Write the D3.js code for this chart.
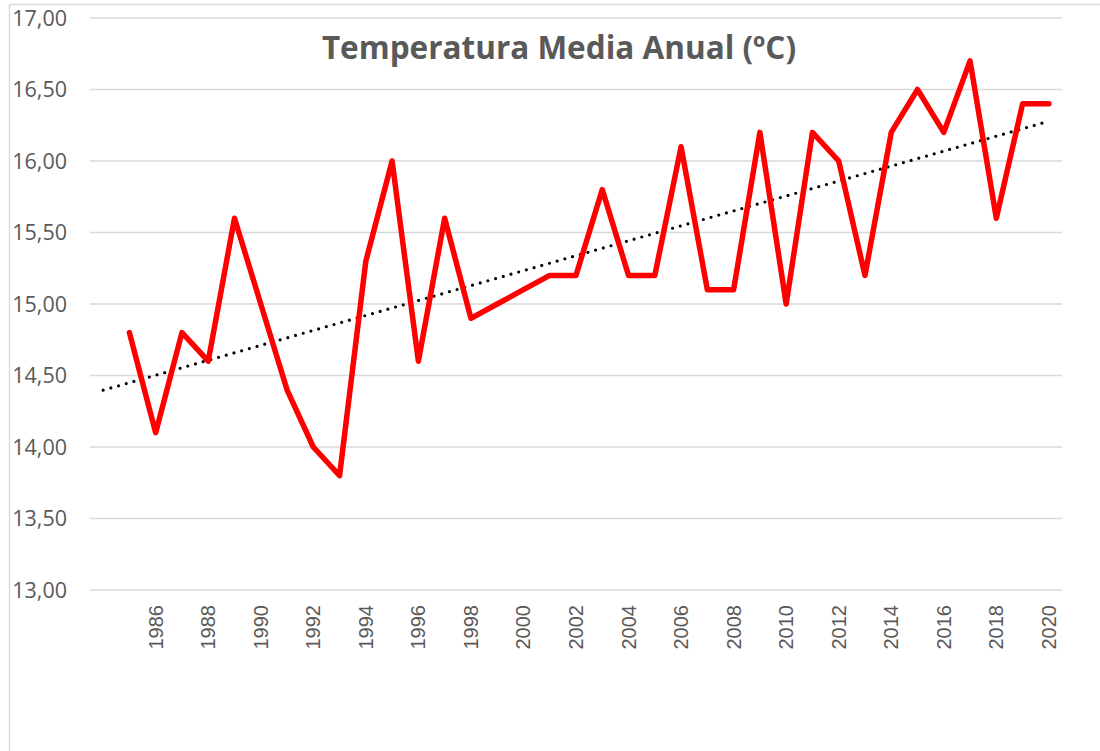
<!DOCTYPE html>
<html>
<head>
  <meta charset="utf-8">
  <title>Temperatura Media Anual</title>
  <script src="https://d3js.org/d3.v7.min.js"></script>
  <style>
    html, body {
      margin: 0;
      padding: 0;
      background: #fff;
    }
    .ylab {
      font: 21.5px "Open Sans", sans-serif;
      fill: #595959;
    }
    .xlab {
      font: 20px "Liberation Sans", Arial, sans-serif;
      fill: #595959;
    }
    .title {
      font: bold 31.5px "Open Sans", sans-serif;
      fill: #595959;
    }
  </style>
</head>
<body>
  <svg width="1100" height="751"></svg>
  <script>
    // data
    const years = d3.range(1985, 2021);
    const temps = [
      14.8, 14.1, 14.8, 14.6, 15.6, 15.0, 14.4, 14.0, 13.8, 15.3,
      16.0, 14.6, 15.6, 14.9, 15.0, 15.1, 15.2, 15.2, 15.8, 15.2,
      15.2, 16.1, 15.1, 15.1, 16.2, 15.0, 16.2, 16.0, 15.2, 16.2,
      16.5, 16.2, 16.7, 15.6, 16.4, 16.4
    ];
    const yTicks = [13, 13.5, 14, 14.5, 15, 15.5, 16, 16.5, 17];
    const xTicks = d3.range(1986, 2021, 2);
    const chartTitle = "Temperatura Media Anual (ºC)";

    const svg = d3.select("svg");

    // chart frame (left + top edge only visible)
    svg.append("line").attr("x1", 9.5).attr("x2", 9.5).attr("y1", 4.5).attr("y2", 751)
      .attr("stroke", "#d9d9d9").attr("stroke-width", 1.5);
    svg.append("line").attr("x1", 9.5).attr("x2", 1100).attr("y1", 4.5).attr("y2", 4.5)
      .attr("stroke", "#d9d9d9").attr("stroke-width", 1.5);

    const plotL = 90, plotR = 1062, plotT = 18, plotB = 590;

    // one empty category before 1985 (trendline forecast backwards)
    const x = d3.scaleLinear().domain([1983.5, 2020.5]).range([plotL, plotR]);
    const y = d3.scaleLinear().domain([13, 17]).range([plotB, plotT]);

    // gridlines
    svg.append("g").selectAll("line")
      .data(yTicks)
      .enter().append("line")
      .attr("x1", plotL).attr("x2", plotR)
      .attr("y1", d => y(d)).attr("y2", d => y(d))
      .attr("stroke", "#d9d9d9").attr("stroke-width", 1.5);

    const fmt = d => d.toFixed(2).replace(".", ",");
    svg.append("g").selectAll("text")
      .data(yTicks)
      .enter().append("text")
      .attr("class", "ylab")
      .attr("x", 67)
      .attr("y", d => y(d))
      .attr("dy", "0.35em")
      .attr("text-anchor", "end")
      .text(fmt);

    svg.append("g").selectAll("text")
      .data(xTicks)
      .enter().append("text")
      .attr("class", "xlab")
      .attr("transform", d => `translate(${x(d)},605) rotate(-90)`)
      .attr("dy", "0.35em")
      .attr("text-anchor", "end")
      .text(d => d);

    // least squares trend
    const mx = d3.mean(years), my = d3.mean(temps);
    const slope = d3.sum(years, (v, i) => (v - mx) * (temps[i] - my)) /
                  d3.sum(years, v => (v - mx) * (v - mx));
    const icpt = my - slope * mx;
    const trendYears = [1984, 2020];

    svg.append("path")
      .datum(trendYears)
      .attr("fill", "none")
      .attr("stroke", "#000")
      .attr("stroke-width", 3.2)
      .attr("stroke-linecap", "round")
      .attr("stroke-dasharray", "0 8")
      .attr("d", d3.line().x(d => x(d)).y(d => y(icpt + slope * d)));

    svg.append("path")
      .datum(years.map((yr, i) => [yr, temps[i]]))
      .attr("fill", "none")
      .attr("stroke", "#ff0000")
      .attr("stroke-width", 5.5)
      .attr("stroke-linejoin", "round")
      .attr("stroke-linecap", "round")
      .attr("d", d3.line().x(d => x(d[0])).y(d => y(d[1])));

    svg.append("text")
      .attr("class", "title")
      .attr("x", 559)
      .attr("y", 59)
      .attr("text-anchor", "middle")
      .text(chartTitle);
  </script>
</body>
</html>
